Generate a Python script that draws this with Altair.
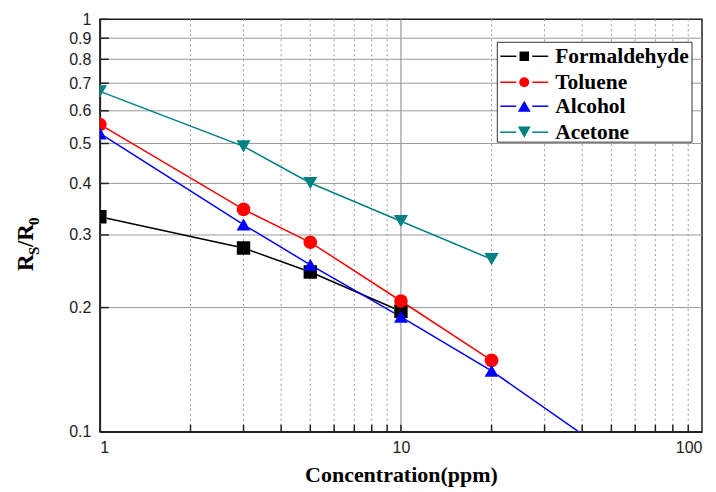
import altair as alt
import pandas as pd

# ---- data ----
series = ["Formaldehyde", "Toluene", "Alcohol", "Acetone"]
colors = ["#000000", "#ff0000", "#0000ff", "#008080"]
shapes = ["square", "circle", "triangle-up", "triangle-down"]
msizes = [90, 100, 165, 165]

conc_formaldehyde = [1, 3, 5, 10]
val_formaldehyde = [0.332, 0.279, 0.244, 0.196]
conc_toluene = [1, 3, 5, 10, 20]
val_toluene = [0.556, 0.346, 0.288, 0.2075, 0.149]
conc_alcohol = [1, 3, 5, 10, 20, 50]
val_alcohol = [0.529, 0.318, 0.254, 0.190, 0.1405, 0.088]
conc_acetone = [1, 3, 5, 10, 20]
val_acetone = [0.669, 0.492, 0.401, 0.324, 0.262]

x_labels = [1, 10, 100]
x_minor = [2, 3, 4, 5, 6, 7, 8, 9, 20, 30, 40, 50, 60, 70, 80, 90]
x_ticks_all = [2, 3, 4, 5, 6, 7, 8, 9, 10, 20, 30, 40, 50, 60, 70, 80, 90]
y_labels = [0.1, 0.2, 0.3, 0.4, 0.5, 0.6, 0.7, 0.8, 0.9, 1]
y_grid = [0.2, 0.3, 0.4, 0.5, 0.6, 0.7, 0.8, 0.9]

rows = []
for name, cs, vs in [("Formaldehyde", conc_formaldehyde, val_formaldehyde),
                     ("Toluene", conc_toluene, val_toluene),
                     ("Alcohol", conc_alcohol, val_alcohol),
                     ("Acetone", conc_acetone, val_acetone)]:
    for c, v in zip(cs, vs):
        rows.append({"series": name, "conc": c, "rr": v})
df = pd.DataFrame(rows)

W, H = 603, 413
xscale = alt.Scale(type="log", domain=[1, 100], nice=False)
yscale = alt.Scale(type="log", domain=[0.1, 1], nice=False)
cscale = alt.Scale(domain=series, range=colors)
sscale = alt.Scale(domain=series, range=shapes)
zscale = alt.Scale(domain=series, range=msizes)
halo_scale = alt.Scale(domain=series, range=[m * 2.0 for m in msizes])

xaxis = alt.Axis(values=x_labels, format="~g", grid=False, tickSize=0,
                 labelFont="Liberation Sans", labelFontSize=16, labelColor="#222",
                 labelPadding=8, domainColor="#222", domainWidth=1.5,
                 title="Concentration(ppm)", titleFont="Liberation Serif",
                 titleFontWeight="bold", titleFontSize=22, titleColor="#000",
                 titlePadding=9)
yaxis = alt.Axis(values=y_labels, format="~g", grid=False, tickSize=0,
                 labelFont="Liberation Sans", labelFontSize=16, labelColor="#222",
                 labelPadding=9, domainColor="#222", domainWidth=1.5, title="")

X = alt.X("conc:Q", scale=xscale, axis=xaxis)
Y = alt.Y("rr:Q", scale=yscale, axis=yaxis)

one = pd.DataFrame({"a": [0]})

vgrid_dot = alt.Chart(pd.DataFrame({"v": x_minor})).mark_rule(
    color="#9a9a9a", strokeWidth=1, strokeDash=[2, 3]).encode(
    x=alt.X("v:Q", scale=xscale, axis=xaxis))
vgrid_solid = alt.Chart(pd.DataFrame({"v": [10]})).mark_rule(
    color="#888888", strokeWidth=1).encode(x=alt.X("v:Q", scale=xscale, axis=xaxis))
hgrid = alt.Chart(pd.DataFrame({"v": y_grid})).mark_rule(
    color="#9a9a9a", strokeWidth=1).encode(y=alt.Y("v:Q", scale=yscale, axis=yaxis))

xticks = alt.Chart(pd.DataFrame({"v": x_ticks_all})).mark_rule(
    color="#222", strokeWidth=1.5).encode(
    x=alt.X("v:Q", scale=xscale, axis=xaxis), y=alt.value(H), y2=alt.value(H - 7))
yticks = alt.Chart(pd.DataFrame({"v": y_labels})).mark_rule(
    color="#222", strokeWidth=1.5).encode(
    y=alt.Y("v:Q", scale=yscale, axis=yaxis), x=alt.value(0), x2=alt.value(9))

lines = alt.Chart(df).mark_line(strokeWidth=1.5, clip=True).encode(
    x=X, y=Y, color=alt.Color("series:N", scale=cscale, legend=None),
    detail="series:N")
halo = alt.Chart(df).mark_point(filled=True, opacity=1, color="white", clip=True).encode(
    x=X, y=Y,
    shape=alt.Shape("series:N", scale=sscale, legend=None),
    size=alt.Size("series:N", scale=halo_scale, legend=None))
points = alt.Chart(df).mark_point(filled=True, opacity=1, clip=True).encode(
    x=X, y=Y, color=alt.Color("series:N", scale=cscale, legend=None),
    shape=alt.Shape("series:N", scale=sscale, legend=None),
    size=alt.Size("series:N", scale=zscale, legend=None))

layers = [vgrid_dot, vgrid_solid, hgrid, xticks, yticks, lines, halo, points]

# ---- manual legend ----
lx0, ly0, lx1, ly1 = 398, 23, 593, 123
layers.append(alt.Chart(one).mark_rect(fill="white", stroke="#333", strokeWidth=1).encode(
    x=alt.value(lx0), x2=alt.value(lx1), y=alt.value(ly0), y2=alt.value(ly1)))
row_y = [37, 63, 87, 113]
for i, name in enumerate(series):
    yy = row_y[i]
    layers.append(alt.Chart(one).mark_rule(color=colors[i], strokeWidth=1.5).encode(
        x=alt.value(401), x2=alt.value(417), y=alt.value(yy)))
    layers.append(alt.Chart(one).mark_rule(color=colors[i], strokeWidth=1.5).encode(
        x=alt.value(433), x2=alt.value(449), y=alt.value(yy)))
    layers.append(alt.Chart(one).mark_point(filled=True, opacity=1, size=msizes[i],
                                            shape=shapes[i], color=colors[i]).encode(
        x=alt.value(425), y=alt.value(yy)))
    layers.append(alt.Chart(one).mark_text(text=name, align="left", baseline="middle",
                                           font="Liberation Serif", fontWeight="bold",
                                           fontSize=21.5, color="#000").encode(
        x=alt.value(456), y=alt.value(yy + 1)))

# ---- y title R_S/R_0 ----
ytitle_parts = [("R", 23, -67, 252), ("S", 15, -61, 236), ("/R", 23, -67, 228), ("0", 15, -61, 206)]
for txt, fs, xx, yy in ytitle_parts:
    layers.append(alt.Chart(one).mark_text(text=txt, angle=270, align="left",
                                           baseline="alphabetic", font="Liberation Serif",
                                           fontWeight="bold", fontSize=fs, color="#000").encode(
        x=alt.value(xx), y=alt.value(yy)))

chart = alt.layer(*layers).properties(
    width=W, height=H,
    autosize=alt.AutoSizeParams(type="none"),
    padding={"left": 92, "top": 11, "right": 6, "bottom": 60},
    background="white",
).configure_view(stroke="#222", strokeWidth=1.5)

chart.save("out.html", embed_options={"renderer": "svg", "actions": False})
